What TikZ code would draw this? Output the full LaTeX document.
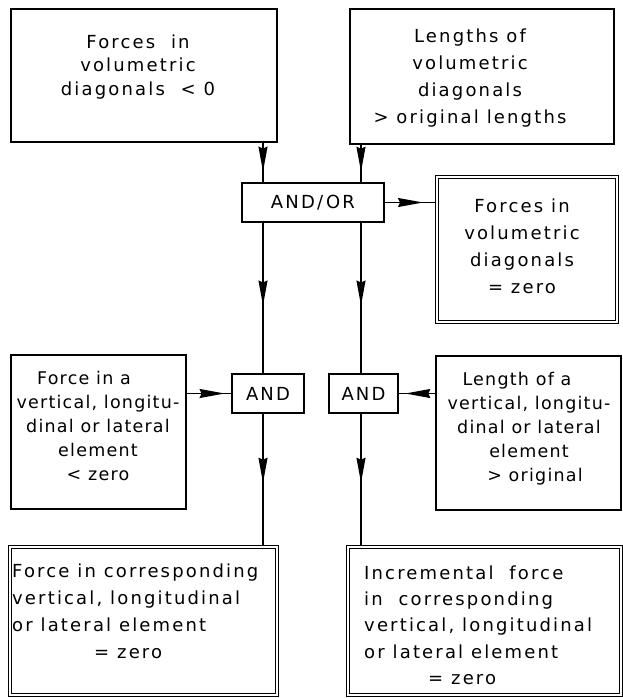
\documentclass[tikz,border=0pt]{standalone}
\usepackage{fontspec}
\setmainfont{DejaVu Sans}[LetterSpace=12]
\usetikzlibrary{arrows.meta,decorations.markings}
\begin{document}
\begin{tikzpicture}[x=1pt,y=-1pt,
  box/.style={draw, line width=1.5pt, inner sep=0pt},
  dbox/.style={draw, double, double distance=1.7pt, line width=1.1pt, inner sep=0pt},
  txt/.style={align=center, inner sep=0pt, font=\fontsize{18}{#1}\selectfont},
  ntxt/.style={align=center, inner sep=0pt, font=\fontsize{17.5}{#1}\selectfont\addfontfeatures{LetterSpace=7}},
  ltxt/.style={align=left, inner sep=0pt, anchor=west, font=\fontsize{18}{#1}\selectfont},
  conn/.style={line width=1.4pt},
  arrat/.style={conn, postaction={decorate}, decoration={markings,
     mark=at position #1 with {\arrow{Stealth[length=25pt,width=9pt,inset=2pt]}}}}
]
\useasboundingbox (0,0) rectangle (622,698);
\fill[white] (0,0) rectangle (622,698);

% columns of the vertical connectors
\coordinate (cL) at (263,0);
\coordinate (cR) at (361,0);

% boxes
\node[box, minimum width=266pt, minimum height=133pt] (b1) at (144,75.5) {};
\node[box, minimum width=264pt, minimum height=135pt] (b2) at (482,76.5) {};
\node[box, minimum width=142pt, minimum height=39pt, font=\fontsize{18}{20}\selectfont] (andor) at (313,202.5) {AND/\,OR};
\node[dbox, minimum width=180pt, minimum height=145pt] (d1) at (527,249.5) {};
\node[box, minimum width=72pt, minimum height=39pt, font=\fontsize{18}{20}\selectfont] (andL) at (268,393.5) {AND};
\node[box, minimum width=69pt, minimum height=39pt, font=\fontsize{18}{20}\selectfont] (andR) at (363.5,393.5) {AND};
\node[box, minimum width=175pt, minimum height=154pt] (mL) at (98.5,432) {};
\node[box, minimum width=185pt, minimum height=154pt] (mR) at (528.5,433) {};
\node[dbox, minimum width=267pt, minimum height=148pt] (bL) at (143.5,621) {};
\node[dbox, minimum width=273pt, minimum height=148pt] (bR) at (484.5,621) {};

% texts
\node[txt=23.5] (t1) at (138,67) {Forces\ \ in\\volumetric\\diagonals\ \ < 0};
\node[txt=27] (t2) at (470,78) {Lengths of\\volumetric\\diagonals\\> original lengths};
\node[txt=27] (t3) at (522,246) {Forces in\\volumetric\\diagonals\\= zero};
\node[ntxt=24] (t4) at (98,426) {Force in a\hspace*{28pt}\\vertical, longitu-\\dinal or lateral\\element\\< zero};
\node[ntxt=24] (t5) at (529,429) {Length of a\hspace*{24pt}\\vertical, longitu-\\dinal or lateral\\element\\\hspace*{12pt}> original};
\node[ltxt=27] (t6) at (12,611) {Force in corresponding\\vertical, longitudinal\\or lateral element\\\hspace*{82pt}= zero};
\node[ltxt=26.3] (t7) at (364,625) {Incremental\ \ force\\in\ \ corresponding\\vertical, longitudinal\\or lateral element\\\hspace*{64pt}= zero};

% connectors
\draw[arrat=0.73] (cL |- b1.south) -- (cL |- andor.north);
\draw[arrat=0.72] (cR |- b2.south) -- (cR |- andor.north);
\draw[arrat=0.74] (andor.east) -- (andor.east -| d1.west);
\draw[arrat=0.55] (cL |- andor.south) -- (cL |- andL.north);
\draw[arrat=0.55] (cR |- andor.south) -- (cR |- andR.north);
\draw[arrat=0.85] (andL.west -| mL.east) -- (andL.west);
\draw[arrat=0.82] (andR.east -| mR.west) -- (andR.east);
\draw[arrat=0.52] (cL |- andL.south) -- (cL |- bL.north);
\draw[arrat=0.52] (cR |- andR.south) -- (cR |- bR.north);
\end{tikzpicture}
\end{document}
